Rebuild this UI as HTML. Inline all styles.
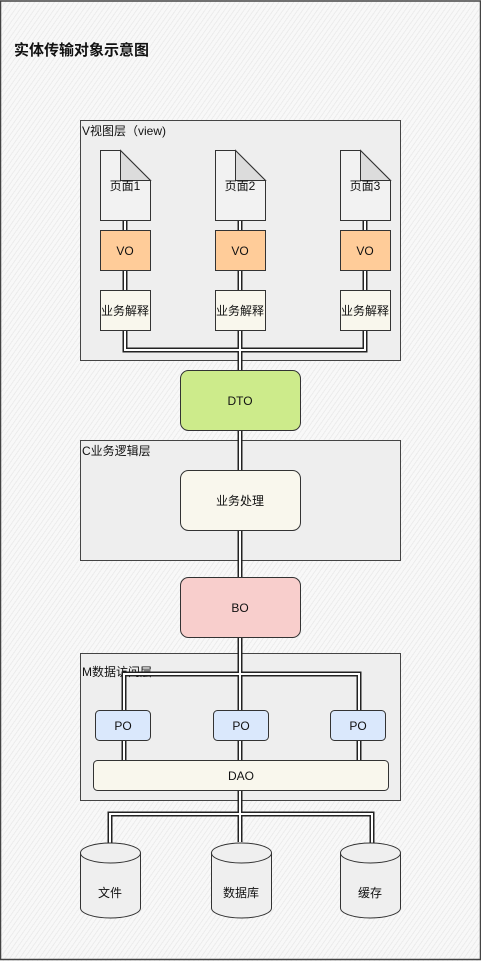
<!DOCTYPE html>
<html><head><meta charset="utf-8"><style>
html,body{margin:0;padding:0;}
body{width:481px;height:961px;overflow:hidden;background:#f6f6f6 repeating-linear-gradient(-55deg,#f8f8f8 0,#f8f8f8 3px,#ececec 3px,#ececec 4px);}
svg{position:absolute;left:0;top:0;}
text{font-family:"Liberation Sans","Noto Sans CJK SC",sans-serif;font-size:12px;fill:#111;}
</style></head><body>
<svg width="481" height="961" viewBox="0 0 481 961">
<rect x="0.5" y="1" width="480" height="958.5" fill="none" stroke="#444" stroke-width="1.5"/>
<text x="14" y="55" style="font-size:15px;font-weight:bold">实体传输对象示意图</text>

<!-- containers -->
<rect x="80.5" y="120.5" width="320" height="240" fill="#eeeeee" stroke="#444"/>
<text x="82" y="135">V视图层（view)</text>
<rect x="80.5" y="440.5" width="320" height="120" fill="#eeeeee" stroke="#444"/>
<text x="82" y="455">C业务逻辑层</text>
<rect x="80.5" y="653.5" width="320" height="147" fill="#eeeeee" stroke="#444"/>
<text x="82" y="676">M数据访问层</text>

<!-- connectors (double) -->
<g fill="none" stroke-linejoin="miter">
<g stroke="#222" stroke-width="5">
<path d="M125 220V230M125 270V290M240 220V230M240 270V290M365 220V230M365 270V290"/>
<path d="M125 330V350H365V330M240 330V370M240 430V470M240 530V577M240 637V710"/>
<path d="M124 710V674H359V710"/>
<path d="M124 740V760M240 740V760M359 740V760"/>
<path d="M240 790V842M110 843V814H372V843"/>
</g>
<g stroke="#fff" stroke-width="2">
<path d="M125 220V230M125 270V290M240 220V230M240 270V290M365 220V230M365 270V290"/>
<path d="M125 330V350H365V330M240 330V370M240 430V470M240 530V577M240 637V710"/>
<path d="M124 710V674H359V710"/>
<path d="M124 740V760M240 740V760M359 740V760"/>
<path d="M240 790V842M110 843V814H372V843"/>
</g>
</g>

<!-- documents -->
<g stroke="#333" stroke-width="1">
<g id="d1">
<path d="M100.5 150.5H120.5L150.5 180.5V220.5H100.5Z" fill="#f2f2f2"/>
<path d="M120.5 150.5V180.5H150.5Z" fill="#dcdcdc"/>
</g>
<g transform="translate(115,0)"><path d="M100.5 150.5H120.5L150.5 180.5V220.5H100.5Z" fill="#f2f2f2"/><path d="M120.5 150.5V180.5H150.5Z" fill="#dcdcdc"/></g>
<g transform="translate(240,0)"><path d="M100.5 150.5H120.5L150.5 180.5V220.5H100.5Z" fill="#f2f2f2"/><path d="M120.5 150.5V180.5H150.5Z" fill="#dcdcdc"/></g>
<!-- VO -->
<rect x="100.5" y="230.5" width="50" height="40" fill="#ffcc99"/>
<rect x="215.5" y="230.5" width="50" height="40" fill="#ffcc99"/>
<rect x="340.5" y="230.5" width="50" height="40" fill="#ffcc99"/>
<!-- 业务解释 -->
<rect x="100.5" y="290.5" width="50" height="40" fill="#f9f7ed"/>
<rect x="215.5" y="290.5" width="50" height="40" fill="#f9f7ed"/>
<rect x="340.5" y="290.5" width="50" height="40" fill="#f9f7ed"/>
<rect x="180.5" y="370.5" width="120" height="60" rx="8" fill="#cdeb8b"/>
<rect x="180.5" y="470.5" width="120" height="60" rx="8" fill="#f9f7ed"/>
<rect x="180.5" y="577.5" width="120" height="60" rx="8" fill="#f8cecc"/>
<rect x="95.5" y="710.5" width="55" height="30" rx="4" fill="#dae8fc"/>
<rect x="213.5" y="710.5" width="55" height="30" rx="4" fill="#dae8fc"/>
<rect x="330.5" y="710.5" width="55" height="30" rx="4" fill="#dae8fc"/>
<rect x="93.5" y="760.5" width="295" height="30" rx="4" fill="#f9f7ed"/>
</g>
<!-- cylinders -->
<g stroke="#333" fill="#efefef">
<path d="M80.5 853V908A30 10 0 0 0 140.5 908V853A30 10 0 0 0 80.5 853Z"/><path d="M80.5 853A30 10 0 0 0 140.5 853" fill="none"/>
<path d="M211.5 853V908A30 10 0 0 0 271.5 908V853A30 10 0 0 0 211.5 853Z"/><path d="M211.5 853A30 10 0 0 0 271.5 853" fill="none"/>
<path d="M340.5 853V908A30 10 0 0 0 400.5 908V853A30 10 0 0 0 340.5 853Z"/><path d="M340.5 853A30 10 0 0 0 400.5 853" fill="none"/>
</g>

<g text-anchor="middle">
<text x="125" y="190">页面1</text><text x="240" y="190">页面2</text><text x="365" y="190">页面3</text>
<text x="125" y="255">VO</text><text x="240" y="255">VO</text><text x="365" y="255">VO</text>
<text x="125" y="315">业务解释</text><text x="240" y="315">业务解释</text><text x="365" y="315">业务解释</text>
<text x="240" y="405">DTO</text>
<text x="240" y="505">业务处理</text>
<text x="240" y="612">BO</text>
<text x="123" y="730">PO</text><text x="241" y="730">PO</text><text x="358" y="730">PO</text>
<text x="241" y="780">DAO</text>
<text x="110" y="897">文件</text><text x="241" y="897">数据库</text><text x="370" y="897">缓存</text>
</g>
</svg>
</body></html>
